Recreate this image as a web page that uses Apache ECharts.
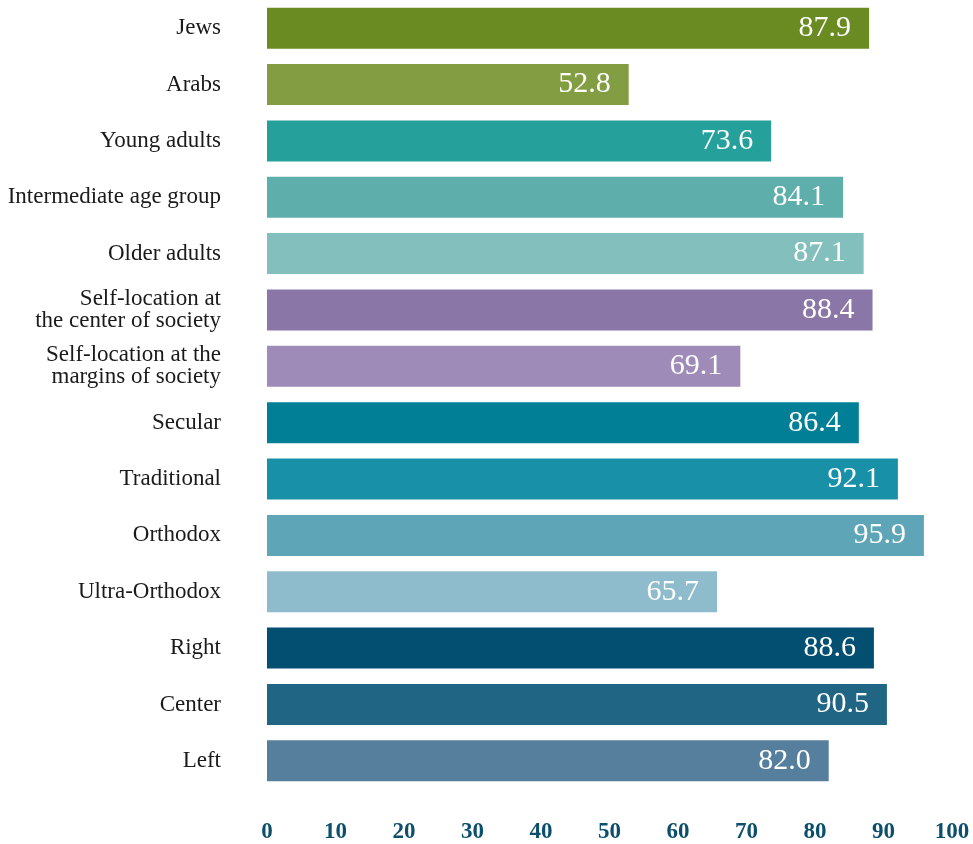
<!DOCTYPE html>
<html>
<head>
<meta charset="utf-8">
<script src="https://cdn.jsdelivr.net/npm/echarts@6/dist/echarts.min.js"></script>
<style>
  html, body { margin: 0; padding: 0; background: #fff; }
  #chart { width: 973px; height: 844px; }
</style>
</head>
<body>
<div id="chart"></div>
<script>
// Groups, top to bottom
const categories = [
  'Jews',
  'Arabs',
  'Young adults',
  'Intermediate age group',
  'Older adults',
  'Self-location at\nthe center of society',
  'Self-location at the\nmargins of society',
  'Secular',
  'Traditional',
  'Orthodox',
  'Ultra-Orthodox',
  'Right',
  'Center',
  'Left'
];

// Percentages per group
const values = [87.9, 52.8, 73.6, 84.1, 87.1, 88.4, 69.1, 86.4, 92.1, 95.9, 65.7, 88.6, 90.5, 82.0];

// Bar fill per group
const barColors = [
  '#6a8a22', '#839d43',
  '#26a09a', '#5eafab', '#83bfbd',
  '#8a77a7', '#9e8bb8',
  '#007f96', '#1891a8', '#5ea6b7', '#8fbccc',
  '#024f72', '#206584', '#567f9e'
];

// Value axis ticks
const xTicks = [0, 10, 20, 30, 40, 50, 60, 70, 80, 90, 100];

const chart = echarts.init(document.getElementById('chart'), null, { renderer: 'canvas' });

chart.setOption({
  animation: false,
  grid: { left: 267, right: 21, top: -2, bottom: 51, containLabel: false },
  xAxis: {
    type: 'value',
    min: xTicks[0],
    max: xTicks[xTicks.length - 1],
    interval: 10,
    axisLine: { show: false },
    axisTick: { show: false },
    splitLine: { show: false },
    axisLabel: {
      margin: 32,
      color: '#0b4f6c',
      fontFamily: 'Liberation Serif',
      fontWeight: 'bold',
      fontSize: 23
    }
  },
  yAxis: {
    type: 'category',
    inverse: true,
    data: categories,
    axisLine: { show: false },
    axisTick: { show: false },
    splitLine: { show: false },
    axisLabel: {
      margin: 46,
      color: '#1a1a1a',
      fontFamily: 'Liberation Serif',
      fontSize: 23,
      lineHeight: 22,
      align: 'right'
    }
  },
  series: [{
    type: 'bar',
    barWidth: 41,
    data: values.map((v, i) => ({ value: v, itemStyle: { color: barColors[i] } })),
    label: {
      show: true,
      position: 'insideRight',
      distance: 18,
      color: '#ffffff',
      fontFamily: 'Liberation Serif',
      fontSize: 30,
      formatter: p => p.value.toFixed(1)
    }
  }]
});
</script>
</body>
</html>
